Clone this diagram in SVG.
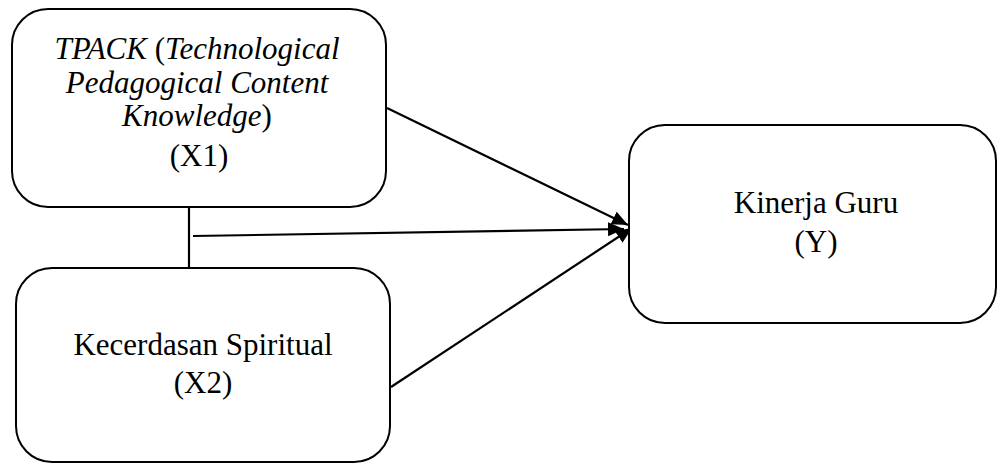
<svg xmlns="http://www.w3.org/2000/svg" width="998" height="463" viewBox="0 0 998 463">
<style>
.box{fill:#fff;stroke:#000;stroke-width:2}
.t{font-family:"Liberation Serif","Times New Roman",serif;font-size:31px;fill:#000;text-anchor:middle}
.i{font-style:italic}
.c{stroke:#000;stroke-width:2.2;fill:none}
</style>
<defs>
<marker id="ah" markerUnits="userSpaceOnUse" markerWidth="18" markerHeight="14" refX="16" refY="7" orient="auto">
<path d="M0,0 L16,7 L0,14 Z" fill="#000"/>
</marker>
</defs>
<rect width="998" height="463" fill="#fff"/>
<g id="connectors">
<line class="c" x1="189" y1="207" x2="189" y2="271" stroke-width="1.5"/>
<line class="c" x1="387" y1="108" x2="628" y2="225" marker-end="url(#ah)"/>
<line class="c" x1="193" y1="236" x2="624" y2="229" marker-end="url(#ah)"/>
<line class="c" x1="391" y1="387" x2="632" y2="228" marker-end="url(#ah)"/>
</g>
<g id="x1">
<rect class="box" x="12" y="9" width="374" height="198" rx="36" ry="36"/>
<text class="t" x="197" y="59"><tspan class="i">TPACK </tspan>(<tspan class="i">Technological</tspan></text>
<text class="t i" x="197" y="93">Pedagogical Content</text>
<text class="t" x="197" y="126"><tspan class="i">Knowledge</tspan>)</text>
<text class="t" x="199" y="166">(X1)</text>
</g>
<g id="x2">
<rect class="box" x="16" y="268" width="374" height="194" rx="36" ry="36"/>
<text class="t" x="203" y="355">Kecerdasan Spiritual</text>
<text class="t" x="203" y="393">(X2)</text>
</g>
<g id="y">
<rect class="box" x="629" y="125" width="367" height="198" rx="36" ry="36"/>
<text class="t" x="816" y="213">Kinerja Guru</text>
<text class="t" x="816" y="252">(Y)</text>
</g>
</svg>
